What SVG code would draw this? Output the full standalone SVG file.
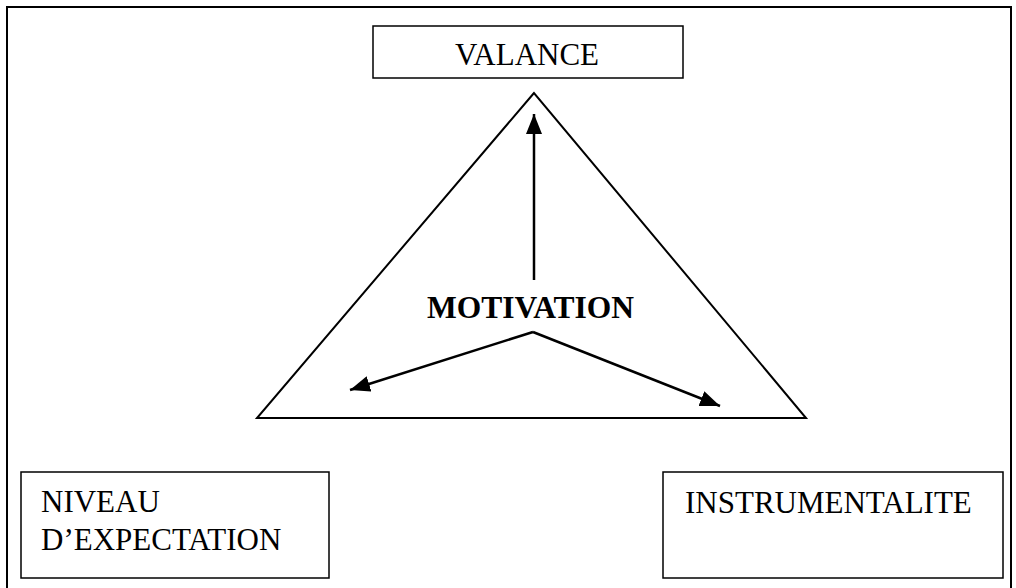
<svg xmlns="http://www.w3.org/2000/svg" width="1016" height="588" viewBox="0 0 1016 588">
  <style>
    .box { fill: #ffffff; stroke: #000000; stroke-width: 1.5; }
    .frame { fill: none; stroke: #000000; stroke-width: 2; }
    .lbl { font-family: "Liberation Serif", "Times New Roman", serif; font-size: 31px; fill: #000000; }
    .bold { font-weight: bold; font-size: 31.5px; }
    .conn { stroke: #000000; stroke-width: 2.5; fill: none; }
  </style>
  <defs>
    <marker id="head" viewBox="0 0 20 16" refX="20" refY="8" markerWidth="20" markerHeight="16" markerUnits="userSpaceOnUse" orient="auto">
      <path d="M0,0 L20,8 L0,16 Z" fill="#000000"/>
    </marker>
  </defs>

  <rect width="1016" height="588" fill="#ffffff"/>

  <!-- page frame, open at the bottom -->
  <path class="frame" d="M7,590 L7,7 L1011,7 L1011,590"/>

  <g id="valance">
    <rect class="box" x="373" y="26" width="310" height="52"/>
    <text class="lbl" x="527" y="65" text-anchor="middle">VALANCE</text>
  </g>

  <g id="motivation">
    <polygon points="534,93 257,418 806,418" fill="none" stroke="#000000" stroke-width="2"/>
    <text class="lbl bold" x="530.5" y="318" text-anchor="middle">MOTIVATION</text>
  </g>

  <g id="niveau">
    <rect class="box" x="21" y="472" width="308" height="106"/>
    <text class="lbl" x="41" y="512">NIVEAU</text>
    <text class="lbl" x="41" y="550">D’EXPECTATION</text>
  </g>

  <g id="instrumentalite">
    <rect class="box" x="663" y="472" width="340" height="106"/>
    <text class="lbl" x="685" y="513">INSTRUMENTALITE</text>
  </g>

  <g id="connectors">
    <line class="conn" x1="534" y1="280" x2="534" y2="114" marker-end="url(#head)"/>
    <line class="conn" x1="533" y1="332" x2="350" y2="390" marker-end="url(#head)"/>
    <line class="conn" x1="533" y1="332" x2="720" y2="406" marker-end="url(#head)"/>
  </g>
</svg>
